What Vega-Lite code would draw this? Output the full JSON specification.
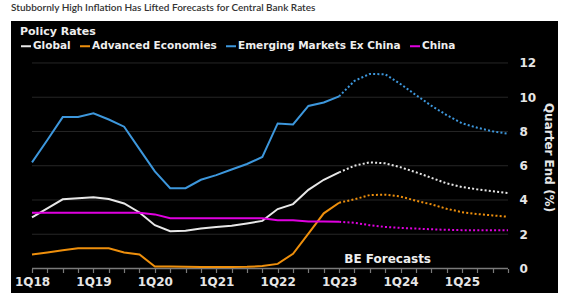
{
 "$schema": "https://vega.github.io/schema/vega-lite/v6.json",
 "width": 547,
 "height": 272,
 "autosize": {"type": "none"},
 "padding": {"left": 11, "top": 21, "right": 7, "bottom": 0},
 "background": "white",
 "title": {"text": "Stubbornly High Inflation Has Lifted Forecasts for Central Bank Rates", "anchor": "start", "frame": "group", "fontSize": 10, "font": "Lato", "fontWeight": 600, "color": "#333333", "offset": 8},
 "config": {"view": {"fill": "black", "stroke": null}},
 "datasets": {
  "rates": [
   {"q":0,"series":"Global","value":2.98,"phase":"actual"},{"q":1,"series":"Global","value":3.51,"phase":"actual"},{"q":2,"series":"Global","value":4.04,"phase":"actual"},{"q":3,"series":"Global","value":4.1,"phase":"actual"},{"q":4,"series":"Global","value":4.16,"phase":"actual"},{"q":5,"series":"Global","value":4.06,"phase":"actual"},{"q":6,"series":"Global","value":3.8,"phase":"actual"},{"q":7,"series":"Global","value":3.27,"phase":"actual"},{"q":8,"series":"Global","value":2.53,"phase":"actual"},{"q":9,"series":"Global","value":2.18,"phase":"actual"},{"q":10,"series":"Global","value":2.2,"phase":"actual"},{"q":11,"series":"Global","value":2.33,"phase":"actual"},{"q":12,"series":"Global","value":2.43,"phase":"actual"},{"q":13,"series":"Global","value":2.49,"phase":"actual"},{"q":14,"series":"Global","value":2.63,"phase":"actual"},{"q":15,"series":"Global","value":2.78,"phase":"actual"},{"q":16,"series":"Global","value":3.47,"phase":"actual"},{"q":17,"series":"Global","value":3.76,"phase":"actual"},{"q":18,"series":"Global","value":4.59,"phase":"actual"},{"q":19,"series":"Global","value":5.18,"phase":"actual"},{"q":20,"series":"Global","value":5.61,"phase":"actual"},
   {"q":20,"series":"Global","value":5.61,"phase":"forecast"},{"q":21,"series":"Global","value":6.0,"phase":"forecast"},{"q":22,"series":"Global","value":6.2,"phase":"forecast"},{"q":23,"series":"Global","value":6.14,"phase":"forecast"},{"q":24,"series":"Global","value":5.91,"phase":"forecast"},{"q":25,"series":"Global","value":5.62,"phase":"forecast"},{"q":26,"series":"Global","value":5.3,"phase":"forecast"},{"q":27,"series":"Global","value":4.97,"phase":"forecast"},{"q":28,"series":"Global","value":4.76,"phase":"forecast"},{"q":29,"series":"Global","value":4.62,"phase":"forecast"},{"q":30,"series":"Global","value":4.51,"phase":"forecast"},{"q":31,"series":"Global","value":4.41,"phase":"forecast"},
   {"q":0,"series":"Advanced Economies","value":0.82,"phase":"actual"},{"q":1,"series":"Advanced Economies","value":0.94,"phase":"actual"},{"q":2,"series":"Advanced Economies","value":1.06,"phase":"actual"},{"q":3,"series":"Advanced Economies","value":1.18,"phase":"actual"},{"q":4,"series":"Advanced Economies","value":1.18,"phase":"actual"},{"q":5,"series":"Advanced Economies","value":1.18,"phase":"actual"},{"q":6,"series":"Advanced Economies","value":0.94,"phase":"actual"},{"q":7,"series":"Advanced Economies","value":0.82,"phase":"actual"},{"q":8,"series":"Advanced Economies","value":0.12,"phase":"actual"},{"q":9,"series":"Advanced Economies","value":0.12,"phase":"actual"},{"q":10,"series":"Advanced Economies","value":0.1,"phase":"actual"},{"q":11,"series":"Advanced Economies","value":0.09,"phase":"actual"},{"q":12,"series":"Advanced Economies","value":0.09,"phase":"actual"},{"q":13,"series":"Advanced Economies","value":0.09,"phase":"actual"},{"q":14,"series":"Advanced Economies","value":0.1,"phase":"actual"},{"q":15,"series":"Advanced Economies","value":0.14,"phase":"actual"},{"q":16,"series":"Advanced Economies","value":0.27,"phase":"actual"},{"q":17,"series":"Advanced Economies","value":0.86,"phase":"actual"},{"q":18,"series":"Advanced Economies","value":2.04,"phase":"actual"},{"q":19,"series":"Advanced Economies","value":3.22,"phase":"actual"},{"q":20,"series":"Advanced Economies","value":3.84,"phase":"actual"},
   {"q":20,"series":"Advanced Economies","value":3.84,"phase":"forecast"},{"q":21,"series":"Advanced Economies","value":4.04,"phase":"forecast"},{"q":22,"series":"Advanced Economies","value":4.29,"phase":"forecast"},{"q":23,"series":"Advanced Economies","value":4.31,"phase":"forecast"},{"q":24,"series":"Advanced Economies","value":4.2,"phase":"forecast"},{"q":25,"series":"Advanced Economies","value":3.96,"phase":"forecast"},{"q":26,"series":"Advanced Economies","value":3.75,"phase":"forecast"},{"q":27,"series":"Advanced Economies","value":3.49,"phase":"forecast"},{"q":28,"series":"Advanced Economies","value":3.29,"phase":"forecast"},{"q":29,"series":"Advanced Economies","value":3.18,"phase":"forecast"},{"q":30,"series":"Advanced Economies","value":3.1,"phase":"forecast"},{"q":31,"series":"Advanced Economies","value":3.02,"phase":"forecast"},
   {"q":0,"series":"Emerging Markets Ex China","value":6.2,"phase":"actual"},{"q":1,"series":"Emerging Markets Ex China","value":7.5,"phase":"actual"},{"q":2,"series":"Emerging Markets Ex China","value":8.84,"phase":"actual"},{"q":3,"series":"Emerging Markets Ex China","value":8.84,"phase":"actual"},{"q":4,"series":"Emerging Markets Ex China","value":9.06,"phase":"actual"},{"q":5,"series":"Emerging Markets Ex China","value":8.7,"phase":"actual"},{"q":6,"series":"Emerging Markets Ex China","value":8.28,"phase":"actual"},{"q":7,"series":"Emerging Markets Ex China","value":6.97,"phase":"actual"},{"q":8,"series":"Emerging Markets Ex China","value":5.67,"phase":"actual"},{"q":9,"series":"Emerging Markets Ex China","value":4.69,"phase":"actual"},{"q":10,"series":"Emerging Markets Ex China","value":4.69,"phase":"actual"},{"q":11,"series":"Emerging Markets Ex China","value":5.18,"phase":"actual"},{"q":12,"series":"Emerging Markets Ex China","value":5.45,"phase":"actual"},{"q":13,"series":"Emerging Markets Ex China","value":5.78,"phase":"actual"},{"q":14,"series":"Emerging Markets Ex China","value":6.1,"phase":"actual"},{"q":15,"series":"Emerging Markets Ex China","value":6.51,"phase":"actual"},{"q":16,"series":"Emerging Markets Ex China","value":8.47,"phase":"actual"},{"q":17,"series":"Emerging Markets Ex China","value":8.41,"phase":"actual"},{"q":18,"series":"Emerging Markets Ex China","value":9.49,"phase":"actual"},{"q":19,"series":"Emerging Markets Ex China","value":9.69,"phase":"actual"},{"q":20,"series":"Emerging Markets Ex China","value":10.05,"phase":"actual"},
   {"q":20,"series":"Emerging Markets Ex China","value":10.05,"phase":"forecast"},{"q":21,"series":"Emerging Markets Ex China","value":10.95,"phase":"forecast"},{"q":22,"series":"Emerging Markets Ex China","value":11.36,"phase":"forecast"},{"q":23,"series":"Emerging Markets Ex China","value":11.34,"phase":"forecast"},{"q":24,"series":"Emerging Markets Ex China","value":10.77,"phase":"forecast"},{"q":25,"series":"Emerging Markets Ex China","value":10.13,"phase":"forecast"},{"q":26,"series":"Emerging Markets Ex China","value":9.51,"phase":"forecast"},{"q":27,"series":"Emerging Markets Ex China","value":8.96,"phase":"forecast"},{"q":28,"series":"Emerging Markets Ex China","value":8.48,"phase":"forecast"},{"q":29,"series":"Emerging Markets Ex China","value":8.22,"phase":"forecast"},{"q":30,"series":"Emerging Markets Ex China","value":8.01,"phase":"forecast"},{"q":31,"series":"Emerging Markets Ex China","value":7.87,"phase":"forecast"},
   {"q":0,"series":"China","value":3.25,"phase":"actual"},{"q":1,"series":"China","value":3.25,"phase":"actual"},{"q":2,"series":"China","value":3.25,"phase":"actual"},{"q":3,"series":"China","value":3.25,"phase":"actual"},{"q":4,"series":"China","value":3.25,"phase":"actual"},{"q":5,"series":"China","value":3.25,"phase":"actual"},{"q":6,"series":"China","value":3.25,"phase":"actual"},{"q":7,"series":"China","value":3.25,"phase":"actual"},{"q":8,"series":"China","value":3.16,"phase":"actual"},{"q":9,"series":"China","value":2.94,"phase":"actual"},{"q":10,"series":"China","value":2.94,"phase":"actual"},{"q":11,"series":"China","value":2.94,"phase":"actual"},{"q":12,"series":"China","value":2.94,"phase":"actual"},{"q":13,"series":"China","value":2.94,"phase":"actual"},{"q":14,"series":"China","value":2.94,"phase":"actual"},{"q":15,"series":"China","value":2.94,"phase":"actual"},{"q":16,"series":"China","value":2.82,"phase":"actual"},{"q":17,"series":"China","value":2.82,"phase":"actual"},{"q":18,"series":"China","value":2.75,"phase":"actual"},{"q":19,"series":"China","value":2.74,"phase":"actual"},{"q":20,"series":"China","value":2.73,"phase":"actual"},
   {"q":20,"series":"China","value":2.73,"phase":"forecast"},{"q":21,"series":"China","value":2.67,"phase":"forecast"},{"q":22,"series":"China","value":2.53,"phase":"forecast"},{"q":23,"series":"China","value":2.43,"phase":"forecast"},{"q":24,"series":"China","value":2.37,"phase":"forecast"},{"q":25,"series":"China","value":2.33,"phase":"forecast"},{"q":26,"series":"China","value":2.29,"phase":"forecast"},{"q":27,"series":"China","value":2.26,"phase":"forecast"},{"q":28,"series":"China","value":2.24,"phase":"forecast"},{"q":29,"series":"China","value":2.24,"phase":"forecast"},{"q":30,"series":"China","value":2.24,"phase":"forecast"},{"q":31,"series":"China","value":2.24,"phase":"forecast"}
  ],
  "grid": [{"value":2,"q":0,"qEnd":31},{"value":4,"q":0,"qEnd":31},{"value":6,"q":0,"qEnd":31},{"value":8,"q":0,"qEnd":31},{"value":10,"q":0,"qEnd":31},{"value":12,"q":0,"qEnd":31}],
  "base": [{"value":0,"q":0,"qEnd":31}]
 },
 "encoding": {
  "x": {"field": "q", "type": "quantitative", "scale": {"domain": [-1.368, 34.256], "nice": false, "zero": false},
    "axis": {"orient": "bottom", "offset": -24.5, "values": [0,1,2,3,4,5,6,7,8,9,10,11,12,13,14,15,16,17,18,19,20,21,22,23,24,25,26,27,28,29,30,31],
      "domain": false, "grid": false, "ticks": true, "tickColor": "#7a7a7a", "tickSize": 4, "tickWidth": 1.2,
      "labelExpr": "datum.value % 4 == 0 ? '1Q' + (18 + datum.value / 4) : ''",
      "labelColor": "#e6e6e6", "labelFont": "DejaVu Sans", "labelFontWeight": "bold", "labelFontSize": 12, "labelPadding": 4,
      "labelOverlap": false, "labelFlush": false, "title": null}},
  "y": {"field": "value", "type": "quantitative", "scale": {"domain": [-1.43, 14.45], "nice": false, "zero": false},
    "axis": {"orient": "right", "offset": -50, "values": [0,2,4,6,8,10,12], "domain": false, "ticks": false, "grid": false,
      "labelPadding": 11, "labelColor": "#e6e6e6", "labelFont": "DejaVu Sans", "labelFontWeight": "bold", "labelFontSize": 12,
      "title": "Quarter End (%)", "titleColor": "#e6e6e6", "titleFont": "DejaVu Sans", "titleFontWeight": "bold", "titleFontSize": 12, "titlePadding": 6}}
 },
 "layer": [
  {
   "data": {"name": "grid"},
   "mark": {"type": "rule", "stroke": "#262626", "strokeWidth": 1},
   "encoding": {"x2": {"field": "qEnd"}}
  },
  {
   "data": {"name": "base"},
   "mark": {"type": "rule", "stroke": "#7a7a7a", "strokeWidth": 1.5},
   "encoding": {"x2": {"field": "qEnd"}}
  },
  {
   "data": {"name": "rates"},
   "transform": [{"filter": "datum.phase == 'actual'"}],
   "mark": {"type": "line", "strokeWidth": 2},
   "encoding": {
    "color": {"field": "series", "type": "nominal",
      "scale": {"domain": ["Global", "Advanced Economies", "Emerging Markets Ex China", "China"], "range": ["#e8e8e8", "#ee8f0c", "#3d97dc", "#e000e0"]},
      "legend": {"orient": "none", "legendX": 9, "legendY": 5, "direction": "horizontal", "columns": 4, "padding": 0,
        "title": "Policy Rates", "titleColor": "#eeeeee", "titleFont": "DejaVu Sans", "titleFontSize": 11, "titleFontWeight": "bold", "titlePadding": 3,
        "labelColor": "#eeeeee", "labelFont": "DejaVu Sans", "labelFontSize": 10.5, "labelFontWeight": "bold", "labelOffset": 1, "labelLimit": 300,
        "symbolType": "stroke", "symbolSize": 100, "symbolStrokeWidth": 2, "symbolDash": [1, 0], "columnPadding": 5}}
   }
  },
  {
   "data": {"name": "rates"},
   "transform": [{"filter": "datum.phase == 'forecast'"}],
   "mark": {"type": "line", "strokeWidth": 2, "strokeDash": [2, 2.2], "strokeCap": "butt"},
   "encoding": {
    "color": {"field": "series", "type": "nominal", "legend": null}
   }
  },
  {
   "data": {"values": [{"q": 23.16, "value": 0.3, "label": "BE Forecasts"}]},
   "mark": {"type": "text", "align": "center", "baseline": "alphabetic", "font": "DejaVu Sans", "fontWeight": "bold", "fontSize": 12, "color": "#eeeeee"},
   "encoding": {
    "text": {"field": "label"}
   }
  }
 ]
}
